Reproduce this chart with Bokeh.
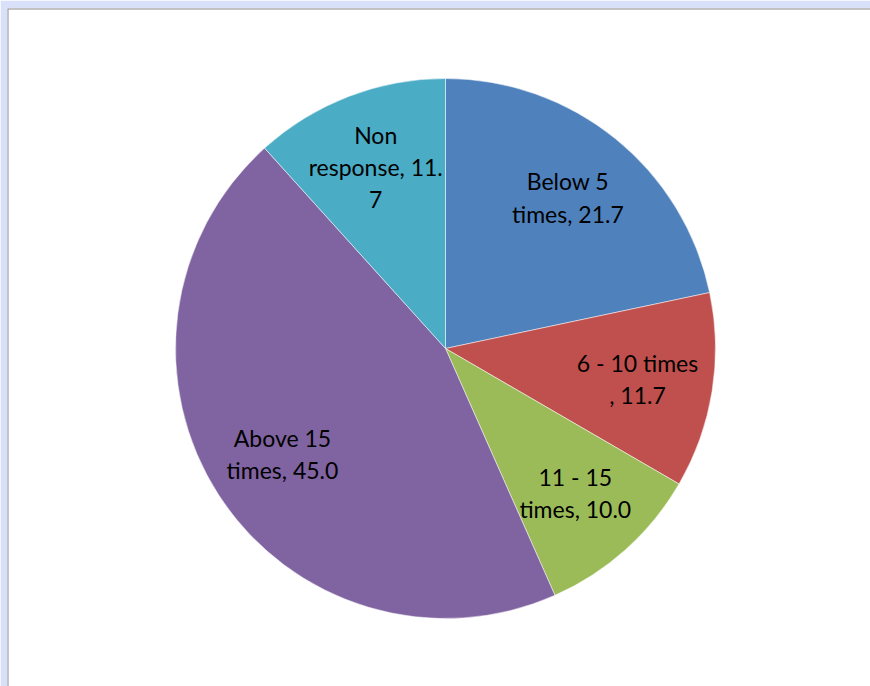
import numpy as np
from bokeh.plotting import figure
from bokeh.models import ColumnDataSource, Range1d, Span
from bokeh.core.properties import value
from bokeh.embed import file_html
from bokeh.resources import INLINE

# ---- data ----
categories = ["Below 5 times", "6 - 10 times", "11 - 15 times", "Above 15 times", "Non response"]
values = [21.7, 11.7, 10.0, 45.0, 11.7]
labels = ["Below 5\ntimes, 21.7", "6 - 10 times\n, 11.7", "11 - 15\ntimes, 10.0",
          "Above 15\ntimes, 45.0", "Non\nresponse, 11.\n7"]
colors = ["#4F81BD", "#C0504D", "#9BBB59", "#8064A2", "#4BACC6"]

# ---- geometry ----
W, H = 870, 686
TOP = 8
CX, CY, R = 445, (H - TOP) - (348 - TOP), 270
LABEL_R = 0.72

vals = np.array(values)
frac = vals / vals.sum()
cum = np.concatenate([[0], np.cumsum(frac)])
start = np.pi / 2 - 2 * np.pi * cum[:-1]
end = np.pi / 2 - 2 * np.pi * cum[1:]
mid = (start + end) / 2

src = ColumnDataSource(dict(cat=categories, val=values, start=start, end=end,
                            color=colors, label=labels,
                            lx=CX + LABEL_R * R * np.cos(mid),
                            ly=CY + LABEL_R * R * np.sin(mid)))

p = figure(width=W, height=H, output_backend="svg", toolbar_location=None,
           x_range=Range1d(7, W), y_range=Range1d(0, H - TOP),
           min_border_left=7, min_border_top=TOP, min_border_right=0, min_border_bottom=0)
p.axis.visible = False
p.grid.visible = False
p.outline_line_color = None
p.background_fill_color = "white"
p.border_fill_color = "#d9e0fa"

p.wedge(x=CX, y=CY, radius=R, start_angle="start", end_angle="end", direction="clock",
        fill_color="color", line_color="white", line_width=1, line_alpha=0.5, source=src)

p.text(x="lx", y="ly", text="label", source=src, text_align="center", text_baseline="middle",
       text_font=value("Lato"), text_font_size="23px", text_color="black",
       text_line_height=1.15)

p.add_layout(Span(location=7, dimension="height", line_color="#8c8c8c", line_width=2))
p.add_layout(Span(location=H - TOP, dimension="width", line_color="#8c8c8c", line_width=2))

open("out.html", "w").write(file_html(p, INLINE))
